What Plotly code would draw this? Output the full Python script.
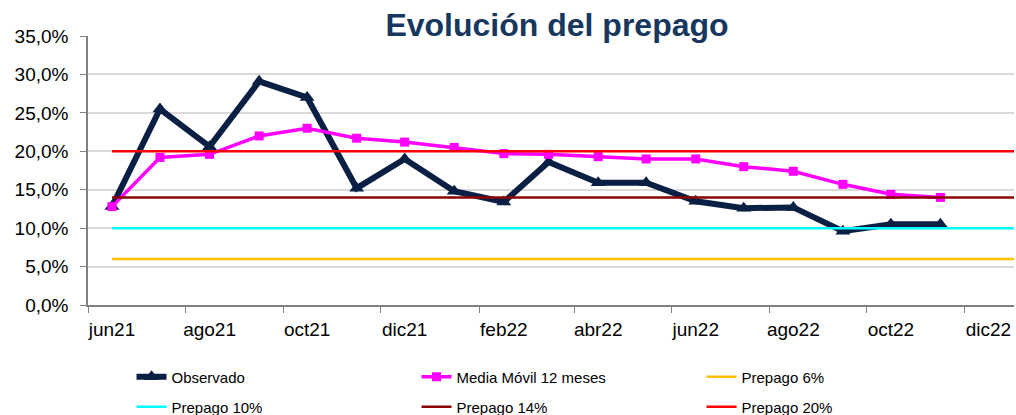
import plotly.graph_objects as go

# ---- data ----
months = ["2021-06-16", "2021-07-16", "2021-08-16", "2021-09-16", "2021-10-16", "2021-11-16",
          "2021-12-16", "2022-01-16", "2022-02-16", "2022-03-16", "2022-04-16", "2022-05-16",
          "2022-06-16", "2022-07-16", "2022-08-16", "2022-09-16", "2022-10-16", "2022-11-16"]
observado = [12.8, 25.5, 20.6, 29.1, 27.0, 15.2, 19.0, 14.8, 13.4, 18.6, 15.9, 15.9,
             13.5, 12.6, 12.7, 9.6, 10.5, 10.5]
media_movil = [12.8, 19.2, 19.6, 22.0, 23.0, 21.7, 21.2, 20.5, 19.7, 19.6, 19.3, 19.0,
               19.0, 18.0, 17.4, 15.7, 14.4, 14.0]
ref_names = ["Prepago 6%", "Prepago 10%", "Prepago 14%", "Prepago 20%"]
ref_values = [6, 10, 14, 20]
ref_colors = ["#FFC000", "#00FFFF", "#8B0000", "#FF0000"]
ref_legends = ["legend", "legend2", "legend2", "legend2"]
axis_start = "2021-06-01"
axis_end = "2023-01-01"
tick_dates = ["2021-06-01", "2021-08-01", "2021-10-01", "2021-12-01", "2022-02-01",
              "2022-04-01", "2022-06-01", "2022-08-01", "2022-10-01", "2022-12-01"]
tick_labels = ["jun21", "ago21", "oct21", "dic21", "feb22", "abr22", "jun22", "ago22", "oct22", "dic22"]
y_ticks = [0, 5, 10, 15, 20, 25, 30, 35]
y_labels = ["0,0%", "5,0%", "10,0%", "15,0%", "20,0%", "25,0%", "30,0%", "35,0%"]

FONT = "Liberation Sans, Arial, sans-serif"

fig = go.Figure()
fig.add_trace(go.Scatter(
    x=months, y=observado, name="Observado", mode="lines+markers",
    line=dict(color="#0a1f44", width=6),
    marker=dict(symbol="triangle-up", size=13, color="#0a1f44"),
    legend="legend"))
fig.add_trace(go.Scatter(
    x=months, y=media_movil, name="Media Móvil 12 meses", mode="lines+markers",
    line=dict(color="#FF00FF", width=3.5),
    marker=dict(symbol="square", size=9, color="#FF00FF"),
    legend="legend"))
for nm, v, c, lg in zip(ref_names, ref_values, ref_colors, ref_legends):
    fig.add_trace(go.Scatter(
        x=[months[0], axis_end], y=[v, v], name=nm, mode="lines",
        line=dict(color=c, width=2.5), legend=lg))

legend_common = dict(orientation="h", xanchor="left", yanchor="middle",
                     x=0.047, entrywidth=240, entrywidthmode="pixels",
                     font=dict(family=FONT, size=15, color="#000000"),
                     bgcolor="rgba(0,0,0,0)", traceorder="normal")

fig.update_layout(
    width=1016, height=415,
    margin=dict(l=88, r=2, t=36, b=110, autoexpand=False),
    paper_bgcolor="white", plot_bgcolor="white",
    font=dict(family=FONT, size=19, color="#000000"),
    title=dict(text="<b>Evolución del prepago</b>", x=557 / 1016, xref="container",
               xanchor="center", y=1 - 25 / 415, yref="container", yanchor="middle",
               font=dict(family=FONT, size=32, color="#17375e")),
    showlegend=True,
    legend=dict(y=-72 / 269, **legend_common),
    legend2=dict(y=-102 / 269, **legend_common),
    xaxis=dict(type="date", range=[axis_start, axis_end], tickmode="array",
               tickvals=tick_dates, ticktext=tick_labels, showgrid=False,
               showline=True, linecolor="#808080", linewidth=1.5,
               ticks="outside", ticklen=6, tickcolor="#808080",
               ticklabelshift=24,
               tickfont=dict(family=FONT, size=19), zeroline=False),
    yaxis=dict(range=[0, 35], tickmode="array", tickvals=y_ticks, ticktext=y_labels,
               showgrid=True, gridcolor="#d9d9d9", gridwidth=1.5,
               showline=True, linecolor="#808080", linewidth=1.5,
               ticks="outside", ticklen=6, tickcolor="#808080",
               ticklabelstandoff=8,
               tickfont=dict(family=FONT, size=19), zeroline=False),
)

fig.write_html("out.html", config={"displayModeBar": False},
               post_script="document.body.style.margin='0';document.body.style.overflow='hidden';")
